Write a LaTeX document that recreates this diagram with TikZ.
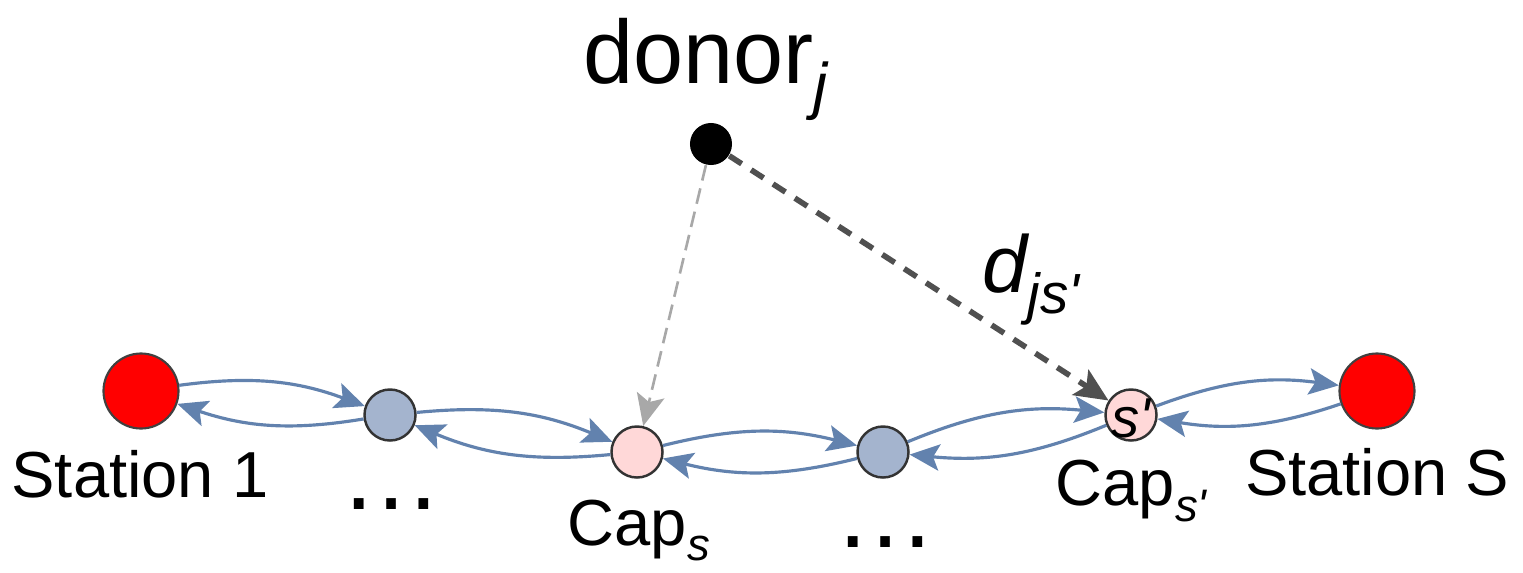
\documentclass[tikz,border=0pt]{standalone}
\usepackage{fontspec}
\setmainfont{Liberation Sans}
\usetikzlibrary{arrows.meta}

\definecolor{stationred}{RGB}{255,0,0}
\definecolor{midblue}{RGB}{164,180,206}
\definecolor{cappink}{RGB}{255,216,216}
\definecolor{linkblue}{RGB}{98,130,174}
\definecolor{lightgray}{RGB}{168,168,168}
\definecolor{darkgray}{RGB}{80,80,80}

% lowered italic subscript
\newcommand{\lsub}[1]{\raisebox{-0.1em}{\textsubscript{\itshape #1}}}

\tikzset{
  station/.style={circle, draw=black!75, line width=0.6pt, fill=stationred,
    minimum size=0.75cm, inner sep=0pt},
  midnode/.style={circle, draw=black!80, line width=0.7pt, fill=midblue,
    minimum size=0.51cm, inner sep=0pt},
  capnode/.style={circle, draw=black!80, line width=0.7pt, fill=cappink,
    minimum size=0.51cm, inner sep=0pt},
  link/.style={-{Stealth[length=8.5pt,width=7.5pt,inset=1.8pt]}, draw=linkblue,
    line width=0.9pt, bend left=14},
  txt/.style={inner sep=0pt, font=\fontsize{18.5}{22}\selectfont}
}

\begin{document}
\begin{tikzpicture}[x=0.01cm, y=-0.01cm]
              % Definitions
              \useasboundingbox (0,0) rectangle (1523,572);

              % Stations and capacity nodes
              \node[station] (st1) at (141,391) {};
              \node[midnode] (mid1) at (390,415) {};
              \node[capnode] (caps) at (637,452) {};
              \node[midnode] (mid2) at (883,452) {};
              \node[capnode] (capsp) at (1131,415) {};
              \node[station] (stS) at (1377,391) {};

              % donor
              \node[circle, fill=black, minimum size=0.42cm, inner sep=0pt]
                (donor) at (711,144) {};

              % links between neighbours
              \draw[link] (st1) to (mid1);
              \draw[link] (mid1) to (st1);
              \draw[link] (mid1) to (caps);
              \draw[link] (caps) to (mid1);
              \draw[link] (caps) to (mid2);
              \draw[link] (mid2) to (caps);
              \draw[link] (mid2) to (capsp);
              \draw[link] (capsp) to (mid2);
              \draw[link] (capsp) to (stS);
              \draw[link] (stS) to (capsp);

              % donor to capacity nodes
              \draw[lightgray, line width=0.75pt, dash pattern=on 4.5pt off 2.3pt,
                -{Stealth[length=9pt,width=8pt,inset=2pt]}] (donor) -- (caps);
              \draw[darkgray, line width=1.6pt, dash pattern=on 4.2pt off 3.2pt,
                -{Stealth[length=9.5pt,width=8.5pt,inset=2pt]}] (donor) -- (capsp);
              \node[inner sep=0pt, font=\fontsize{16}{18}\selectfont\itshape]
                (sprime) at (1131,418) {s\textquotesingle};

              % labels
              \node[txt, anchor=base] (lab1) at (140,497) {Station 1};
              \node[txt, anchor=base] (labS) at (1377,495) {Station S};
              \node[txt, anchor=base west] (labcaps) at (567,545)
                {Cap\lsub{s}};
              \node[txt, anchor=base west] (labcapsp) at (1055,505)
                {Cap\lsub{s\textquotesingle}};
              \node[inner sep=0pt, anchor=base, font=\fontsize{29}{30}\selectfont]
                (dots1) at (391,509) {\symbol{"2026}};
              \node[inner sep=0pt, anchor=base, font=\fontsize{29}{30}\selectfont]
                (dots2) at (885,547) {\symbol{"2026}};
              \node[inner sep=0pt, anchor=base west, font=\fontsize{25.6}{30}\selectfont]
                (labdonor) at (583,83) {donor\lsub{j}};
              \node[inner sep=0pt, anchor=base west, font=\fontsize{23}{28}\selectfont\itshape]
                (labdist) at (982,292) {d\lsub{js\textquotesingle}};
\end{tikzpicture}
\end{document}
